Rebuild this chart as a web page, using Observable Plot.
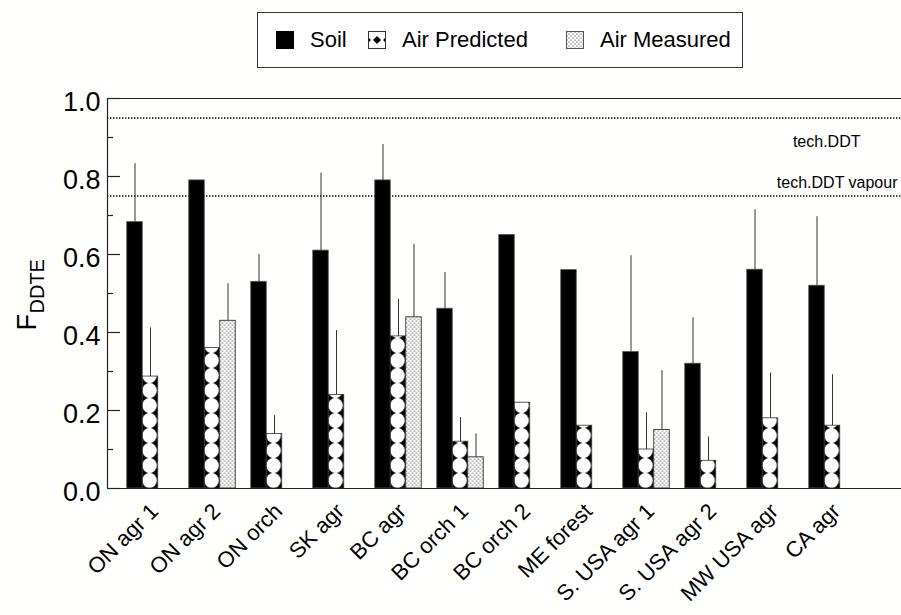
<!DOCTYPE html>
<html><head><meta charset="utf-8">
<script src="https://cdn.jsdelivr.net/npm/d3@7"></script>
<script src="https://cdn.jsdelivr.net/npm/@observablehq/plot@0.6"></script>
<style>
html,body{margin:0;padding:0;background:#fff;font-family:"Liberation Sans",Arial,sans-serif;overflow:hidden;}
#wrap{position:relative;width:901px;height:615px;overflow:hidden;}
#legend{position:absolute;left:257px;top:12px;width:486px;height:56px;border:1px solid #333;box-sizing:border-box;background:#fff;}
.sw{position:absolute;top:18px;}
.lt{position:absolute;top:0;line-height:54px;font-size:22px;color:#000;white-space:nowrap;}
#chart{position:absolute;left:0;top:0;width:901px;height:615px;}
#chart svg{display:block;max-width:none;}
#defs{position:absolute;left:0;top:0;width:0;height:0;}
</style></head><body>
<div id="wrap">
<svg id="defs" width="0" height="0">
<defs>
<pattern id="pred" patternUnits="userSpaceOnUse" x="141.75" y="488" width="15.5" height="15">
 <rect width="15.5" height="15" fill="#000"/>
 <ellipse cx="7.75" cy="7.5" rx="7.4" ry="7.6" fill="#fff"/>
</pattern>
<pattern id="predL" patternUnits="userSpaceOnUse" x="0" y="0" width="18" height="18">
 <rect width="18" height="18" fill="#fff"/>
 <path d="M9,5 L13,9 L9,13 L5,9Z M0,6 L3,9 L0,12Z M18,6 L15,9 L18,12Z" fill="#000"/>
</pattern>
<pattern id="meas" patternUnits="userSpaceOnUse" width="4" height="4">
 <rect width="4" height="4" fill="#fff"/>
 <circle cx="1" cy="1" r="0.55" fill="#000"/>
 <circle cx="3" cy="3" r="0.55" fill="#000"/>
</pattern>
</defs></svg>
 <div id="chart"></div>
 <div id="legend">
  <svg class="sw" style="left:18px" width="18" height="18"><rect width="18" height="18" fill="#000"/></svg>
  <div class="lt" style="left:52px">Soil</div>
  <svg class="sw" style="left:110px" width="18" height="18"><rect x="0.5" y="0.5" width="17" height="17" fill="url(#predL)" stroke="#333"/></svg>
  <div class="lt" style="left:144px">Air Predicted</div>
  <svg class="sw" style="left:308px" width="18" height="18"><rect x="0.5" y="0.5" width="17" height="17" fill="url(#meas)" stroke="#555"/></svg>
  <div class="lt" style="left:342px">Air Measured</div>
 </div>
</div>
<script>
const sites = ["ON agr 1","ON agr 2","ON orch","SK agr","BC agr","BC orch 1","BC orch 2","ME forest","S. USA agr 1","S. USA agr 2","MW USA agr","CA agr"];
const soil = [0.683,0.790,0.530,0.610,0.790,0.461,0.650,0.560,0.350,0.320,0.561,0.520];
const soilErr = [0.833,null,0.600,0.809,0.882,0.554,null,null,0.597,0.438,0.715,0.697];
const airPred = [0.287,0.360,0.140,0.240,0.390,0.120,0.220,0.161,0.100,0.071,0.180,0.161];
const airPredErr = [0.412,null,0.187,0.405,0.485,0.182,null,null,0.194,0.132,0.296,0.292];
const airMeas = [null,0.430,null,null,0.439,0.080,null,null,0.150,null,null,null];
const airMeasErr = [null,0.525,null,null,0.626,0.140,null,null,0.302,null,null,null];
const refLines = [0.95, 0.75];
const refLabels = ["tech.DDT", "tech.DDT vapour"];
const majorTicks = [0, 0.2, 0.4, 0.6, 0.8, 1.0];
const minorTicks = [0.1, 0.3, 0.5, 0.7, 0.9];

const rows = sites.map((s, i) => ({site: s, soil: soil[i], soilErr: soilErr[i], pred: airPred[i], predErr: airPredErr[i], meas: airMeas[i], measErr: airMeasErr[i]}));
const BW = 15.5, INS = (62 - BW) / 2;
const font = "Liberation Sans, Arial, sans-serif";
const W = 901, ML = 107;

const chart = Plot.plot({
  width: W, height: 615,
  marginTop: 98, marginBottom: 127, marginLeft: ML, marginRight: 0,
  style: {fontFamily: font, background: "#fffffe", color: "#010101", maxWidth: "none"},
  x: {domain: sites, range: [118.5, 862.5], padding: 0, axis: null},
  y: {domain: [0, 1], axis: null},
  marks: [
    Plot.ruleY(refLines, {y: d => d, stroke: "#000", strokeWidth: 1.4, strokeDasharray: "1.4,1.6"}),
    Plot.barY(rows.filter(d => d.soil != null), {x: "site", y: "soil", fill: "#010101", stroke: "#555", strokeWidth: 0.8, insetLeft: INS, insetRight: INS, dx: -BW}),
    Plot.barY(rows.filter(d => d.pred != null), {x: "site", y: "pred", fill: "url(#pred)", stroke: "#333", strokeWidth: 0.8, insetLeft: INS, insetRight: INS}),
    Plot.barY(rows.filter(d => d.meas != null), {x: "site", y: "meas", fill: "url(#meas)", stroke: "#333", strokeWidth: 0.9, insetLeft: INS, insetRight: INS, dx: BW}),
    Plot.ruleX(rows.filter(d => d.soilErr != null), {x: "site", y1: "soil", y2: "soilErr", dx: -BW, stroke: "#333", strokeWidth: 1}),
    Plot.ruleX(rows.filter(d => d.predErr != null), {x: "site", y1: "pred", y2: "predErr", stroke: "#333", strokeWidth: 1}),
    Plot.ruleX(rows.filter(d => d.measErr != null), {x: "site", y1: "meas", y2: "measErr", dx: BW, stroke: "#333", strokeWidth: 1}),
    Plot.ruleY([0, 1], {stroke: "#222", strokeWidth: 1.2}),
    Plot.ruleX([0], {x: null, y1: 0, y2: 1, dx: ML - (ML + W) / 2, stroke: "#222", strokeWidth: 1.2}),
    Plot.tickY(majorTicks, {y: d => d, stroke: "#222", strokeWidth: 1.2, insetRight: W - ML - 13}),
    Plot.tickY(minorTicks, {y: d => d, stroke: "#222", strokeWidth: 1.2, insetRight: W - ML - 6}),
    Plot.text(majorTicks, {y: d => d, text: d => d.toFixed(1), frameAnchor: "left", textAnchor: "end", dx: -7, dy: 4, fontSize: 27, fill: "#010101"}),
    Plot.text(sites, {x: d => d, text: d => d, frameAnchor: "bottom", rotate: -45, textAnchor: "end", lineAnchor: "top", dx: -2, dy: 13, fontSize: 22, fill: "#010101"}),
    Plot.text([refLabels[0]], {y: refLines[0], text: d => d, frameAnchor: "right", textAnchor: "end", dx: -41, dy: 24, fontSize: 16, fill: "#010101"}),
    Plot.text([refLabels[1]], {y: refLines[1], text: d => d, frameAnchor: "right", textAnchor: "end", dx: -4, dy: -13, fontSize: 16, fill: "#010101"}),
    Plot.text(["F"], {frameAnchor: "left", rotate: -90, textAnchor: "start", lineAnchor: "bottom", dx: -72, dy: 37, fontSize: 27, fill: "#010101"}),
    Plot.text(["DDTE"], {frameAnchor: "left", rotate: -90, textAnchor: "start", lineAnchor: "bottom", dx: -64, dy: 20, fontSize: 20, fill: "#010101"})
  ]
});
document.getElementById("chart").appendChild(chart);
</script>
</body></html>
